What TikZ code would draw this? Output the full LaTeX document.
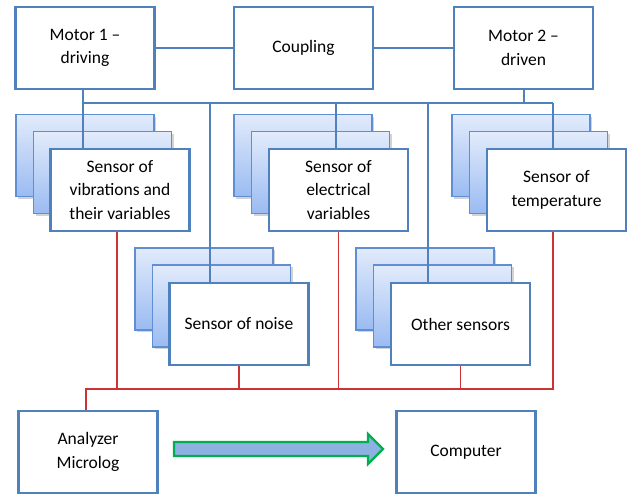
\documentclass[tikz,border=0pt]{standalone}
\usepackage{fontspec}
\setmainfont{Carlito}
\usetikzlibrary{shadows}
\definecolor{boxblue}{HTML}{4F81BD}
\definecolor{stackedge}{HTML}{5F8ED2}
\definecolor{stacktop}{HTML}{E2EBFB}
\definecolor{stackbot}{HTML}{9ABBF2}
\definecolor{wirered}{HTML}{CC3333}
\definecolor{arrowfill}{HTML}{8DB1E0}
\definecolor{arrowedge}{HTML}{00B050}
\tikzset{
  mainbox/.style={draw=boxblue, line width=2.4pt, fill=white,
    minimum width=139pt, minimum height=82pt, inner sep=2pt,
    align=center, font=\fontsize{17.5}{23.5}\selectfont},
  backbox/.style={draw=stackedge, line width=1.5pt,
    top color=stacktop, bottom color=stackbot,
    minimum width=138pt, minimum height=82pt,
    drop shadow={opacity=0.35, shadow xshift=2pt, shadow yshift=-2pt}},
  bluewire/.style={draw=boxblue, line width=1.2pt},
  redwire/.style={draw=wirered, line width=1.2pt},
  blockarrow/.style={fill=arrowfill, draw=arrowedge, line width=2.2pt, line join=miter}
}
\begin{document}
\begin{tikzpicture}[x=1pt, y=-1pt]
\useasboundingbox (0,0) rectangle (628,495);

% top row
\node[mainbox] (m1) at (85,48) {Motor 1 --\\driving};
\node[mainbox] (cp) at (303.5,48) {Coupling};
\node[mainbox] (m2) at (523.5,48) {Motor 2 --\\driven};

% stacked back cards of each sensor group
\foreach \n/\x/\y in {vib/85/155.5, ele/303/155.5, tem/521/155.5, noi/204/289, oth/425/289}{
  \node[backbox] (\n-b1) at (\x,\y) {};
  \node[backbox] (\n-b2) at ([xshift=17.5pt,yshift=-17pt]\n-b1.center) {};
}

% sensor bus from the motors
\coordinate (busL) at (83,103);
\coordinate (busR) at (553,103);
\draw[bluewire] (m1.east) -- (m1.east -| cp.west);
\draw[bluewire] (cp.east) -- (cp.east -| m2.west);
\draw[bluewire] (m1.south -| busL) -- (busL) -- (busR);
\draw[bluewire] (m2.south -| 524,0) -- (524,103);
\draw[bluewire] (busL) -- (83,148);
\draw[bluewire] (210,103) -- (210,282);
\draw[bluewire] (336,103) -- (336,148);
\draw[bluewire] (428,103) -- (428,282);
\draw[bluewire] (busR) -- (553,148);

% front cards
\node[mainbox] (vib) at (120,190) {Sensor of\\vibrations and\\their variables};
\node[mainbox] (ele) at (338.5,190) {Sensor of\\electrical\\variables};
\node[mainbox] (tem) at (556.5,190) {Sensor of\\temperature};
\node[mainbox] (noi) at (239,324) {Sensor of noise};
\node[mainbox] (oth) at (460.5,324) {Other sensors};

% bottom row
\node[mainbox] (ana) at (88,452) {Analyzer\\Microlog};
\node[mainbox] (pc) at (466,452) {Computer};

% signal lines to the analyzer
\coordinate (rL) at (86,389);
\coordinate (rR) at (553,389);
\draw[redwire] (ana.north -| rL) -- (rL) -- (rR) -- (tem.south -| rR);
\draw[redwire] (vib.south -| 117,0) -- (117,389);
\draw[redwire] (ele.south) -- (ele.south |- rL);
\draw[redwire] (noi.south) -- (noi.south |- rL);
\draw[redwire] (oth.south) -- (oth.south |- rL);

% data transfer arrow
\draw[blockarrow] (174,442) -- (368,442) -- (368,434) -- (383,449)
  -- (368,464) -- (368,456) -- (174,456) -- cycle;
\end{tikzpicture}
\end{document}
